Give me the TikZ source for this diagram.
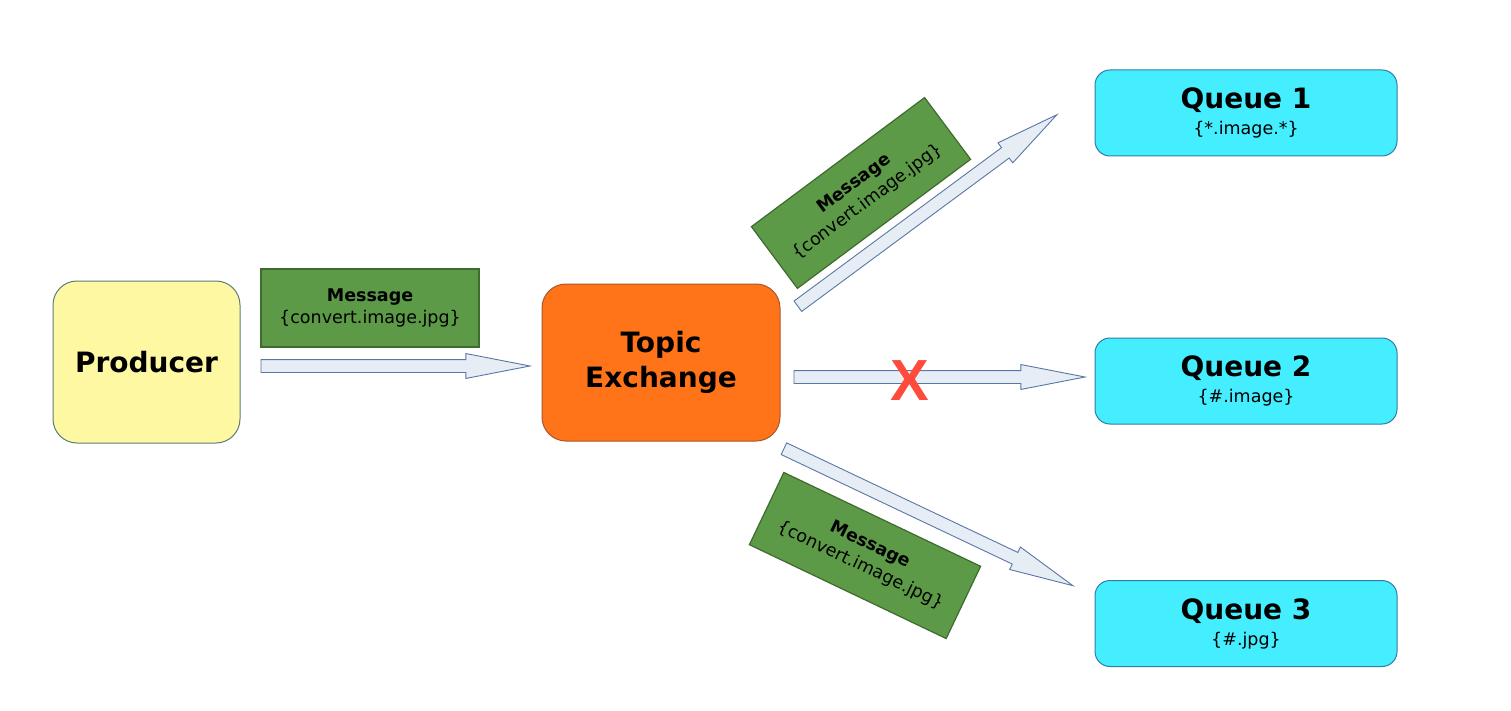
\documentclass[tikz,border=0pt]{standalone}
\usepackage{fontspec}
\setmainfont{DejaVu Sans}
\newfontfamily\xfont{Liberation Sans}
\usetikzlibrary{calc,shapes.arrows,positioning}
\definecolor{prodfill}{HTML}{FFF8A2}
\definecolor{prodline}{HTML}{5E7D78}
\definecolor{exfill}{HTML}{FF7419}
\definecolor{exline}{HTML}{A9562A}
\definecolor{qfill}{HTML}{45EEFF}
\definecolor{qline}{HTML}{2F7DA6}
\definecolor{msgfill}{HTML}{5C9A47}
\definecolor{msgline}{HTML}{3E6B2F}
\definecolor{flowfill}{HTML}{E7EDF5}
\definecolor{flowline}{HTML}{5A76A6}
\definecolor{cross}{HTML}{FF4B3B}
\tikzset{
	box/.style={draw, line width=1, rounded corners=24, align=center, font=\bfseries\fontsize{28}{35}\selectfont},
	queue/.style={box, draw=qline, fill=qfill, rounded corners=15, minimum width=302, minimum height=86},
	msg/.style={draw=msgline, fill=msgfill, line width=1.2, minimum width=218, minimum height=78, align=center, font=\fontsize{17.5}{22.5}\selectfont},
	flow/.style={single arrow, draw=flowline, fill=flowfill, line width=0.9, inner xsep=0, inner ysep=6, single arrow head extend=6, single arrow tip angle=22, anchor=tail}
}
\newcommand\flowarrow[2]{\path let \p1=($(#2)-(#1)$), \n1={atan2(\y1,\x1)}, \n2={veclen(\x1,\y1)} in node[flow, minimum height=\n2, rotate=\n1] at (#1) {};}
\begin{document}
\begin{tikzpicture}[x=1pt,y=-1pt]
	\useasboundingbox[fill=white] (0,0) rectangle (1511,711);
	\node[box, draw=prodline, fill=prodfill, minimum width=187, minimum height=162] (prod) at (146.5,362) {Producer};
	\node[box, draw=exline, fill=exfill, minimum width=238, minimum height=157] (exch) at (661,362.5) {Topic\\Exchange};
	\foreach \i/\y/\k in {1/113/{\{*.image.*\}},2/381/{\{\#.image\}},3/623.5/{\{\#.jpg\}}}
	{
		\node[queue] (q\i) at (1246,\y) {Queue \i\\[-9pt]{\mdseries\fontsize{17.5}{21}\selectfont\k}};
	}
	\node[msg] (m1) at (370,308) {\textbf{Message}\\\{convert.image.jpg\}};
	\node[msg, rotate=36.7, minimum width=216, minimum height=77] (m2) at (861,193) {\textbf{Message}\\\{convert.image.jpg\}};
	\node[msg, rotate=-25.5, minimum height=80] (m3) at (865,555.5) {\textbf{Message}\\\{convert.image.jpg\}};

	\coordinate (a1s) at ($(prod.east)+(20,4)$);	\coordinate (a1e) at ($(exch.west)+(-12,3.5)$);
	\coordinate (a2s) at ($(exch.east)+(13,14.5)$);	\coordinate (a2e) at ($(q2.west)+(-10,-4)$);
	\coordinate (a3s) at ($(exch.east)+(17,-56)$);	\coordinate (a3e) at ($(q1.west)+(-38,2)$);
	\coordinate (a4s) at ($(exch.south east)+(3,7)$);	\coordinate (a4e) at ($(q3.west)+(-22,-38)$);
	\flowarrow{a1s}{a1e}
	\flowarrow{a2s}{a2e}
	\flowarrow{a3s}{a3e}
	\flowarrow{a4s}{a4e}
	\node[text=cross, font=\xfont\bfseries\fontsize{58}{58}\selectfont] (x) at (910,381) {X};
\end{tikzpicture}
\end{document}
